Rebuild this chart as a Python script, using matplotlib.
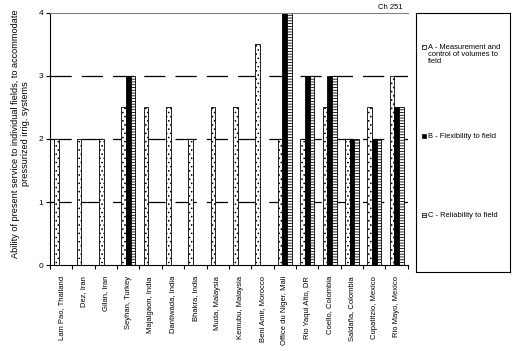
import numpy as np
import matplotlib
matplotlib.use("Agg")
from matplotlib import pyplot as plt
from matplotlib.patches import Rectangle

plt.rcParams['font.family'] = ['Liberation Sans', 'DejaVu Sans']
plt.rcParams['hatch.linewidth'] = 0.6

# projects and ratings
projects = ["Lam Pao, Thailand", "Dez, Iran", "Gilan, Iran", "Seyhan, Turkey",
            "Majalgaon, India", "Dantiwada, India", "Bhakra, India", "Muda, Malaysia",
            "Kemubu, Malaysia", "Beni Amir, Morocco", "Office du Niger, Mali",
            "Rio Yaqui Alto, DR", "Coello, Colombia", "Saldaña, Colombia",
            "Cupatitzio, Mexico", "Rio Mayo, Mexico"]
ind_a = [2, 2, 2, 2.5, 2.5, 2.5, 2, 2.5, 2.5, 3.5, 2, 2, 2.5, 2, 2.5, 3]
ind_b = [0, 0, 0, 3, 0, 0, 0, 0, 0, 0, 4, 3, 3, 2, 2, 2.5]
ind_c = [0, 0, 0, 3, 0, 0, 0, 0, 0, 0, 4, 3, 3, 2, 2, 2.5]
labels = ["A - Measurement and\ncontrol of volumes to\nfield",
          "B - Flexibility to field",
          "C - Reliability to field"]

fig = plt.figure(figsize=(5.13, 3.51), dpi=100)
ax = fig.add_axes([0.0975, 0.245, 0.6975, 0.718])

x = np.arange(len(projects))
w = 0.21
styles = [dict(facecolor='white', hatch='....'),
          dict(facecolor='black'),
          dict(facecolor='white', hatch='------')]
for k, vals in enumerate([ind_a, ind_b, ind_c]):
    ax.bar(x + (k - 1) * w, vals, w, edgecolor='black', linewidth=0.6, **styles[k])

ax.set_axisbelow(True)
for yv in [1, 2, 3]:
    ax.axhline(yv, color='black', lw=0.9, linestyle=(0, (17, 8)), zorder=0)

ax.set_xlim(-0.5, len(projects) - 0.5)
ax.set_ylim(0, 4)
ax.set_yticks([0, 1, 2, 3, 4])
ax.tick_params(axis='y', labelsize=6, length=3, width=0.8, pad=2)
ax.set_xticks(x)
ax.set_xticklabels(projects, rotation=90, fontsize=5.5)
ax.tick_params(axis='x', length=0, pad=8)
ax.set_xticks(np.arange(len(projects) + 1) - 0.5, minor=True)
ax.tick_params(axis='x', which='minor', length=3, width=0.8)
ax.spines['right'].set_visible(False)
ax.spines['top'].set_color('gray')
ax.spines['left'].set_linewidth(0.8)
ax.spines['bottom'].set_linewidth(0.8)
ax.set_ylabel("Ability of present service to individual fields, to accommodate\n"
              "pressurized irrig. systems", fontsize=6.6)
ax.yaxis.set_label_coords(-0.055, 0.52)
fig.text(0.785, 0.968, "Ch 251", fontsize=5.5, ha='right', va='bottom')

# legend box
lg = fig.add_axes([0.811, 0.225, 0.183, 0.738])
lg.set_xticks([])
lg.set_yticks([])
for s in lg.spines.values():
    s.set_linewidth(0.8)
lg.set_xlim(0, 1)
lg.set_ylim(0, 1)
ypos = [0.868, 0.525, 0.22]
for k, lab in enumerate(labels):
    lg.add_patch(Rectangle((0.06, ypos[k] - 0.008), 0.045, 0.016,
                           edgecolor='black', linewidth=0.5, **styles[k]))
    lg.text(0.13, ypos[k] + (0.012 if k == 0 else 0), lab, fontsize=5.4,
            va='top' if k == 0 else 'center', ha='left', linespacing=1.0)

plt.savefig("out.png", dpi=100)
